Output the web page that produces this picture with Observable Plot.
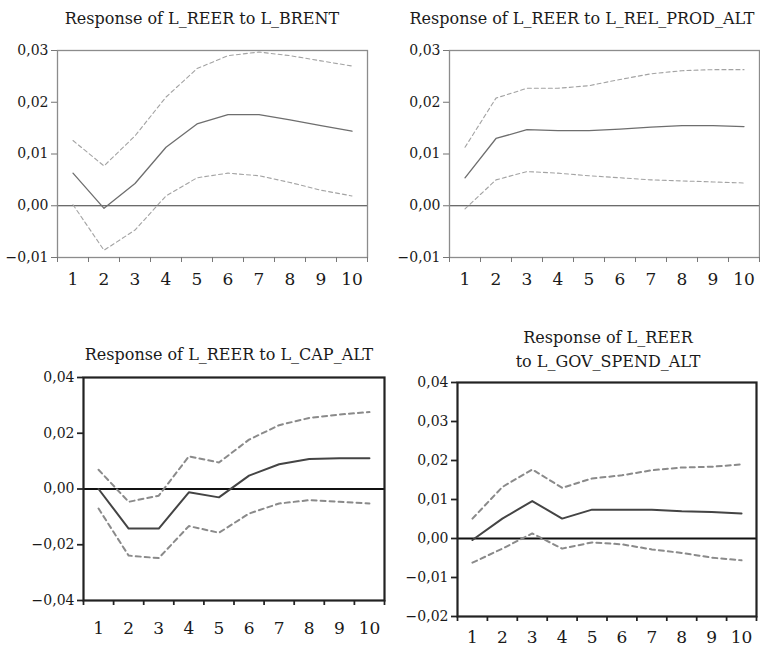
<!DOCTYPE html>
<html>
<head>
<meta charset="utf-8">
<script src="https://cdn.jsdelivr.net/npm/d3@7"></script>
<script src="https://cdn.jsdelivr.net/npm/@observablehq/plot@0.6"></script>
<style>
  html, body { margin: 0; padding: 0; background: #fff; }
  #root { position: relative; width: 760px; height: 646px; overflow: hidden; font-family: "DejaVu Serif", serif; color: #1a1a1a; }
  .panel { position: absolute; }
  .title { position: absolute; text-align: center; font-size: 16px; line-height: 20px; white-space: nowrap; }
</style>
</head>
<body>
<div id="root"></div>
<script>
// ---- data ----
const periods = [1, 2, 3, 4, 5, 6, 7, 8, 9, 10];

const brentMid = [0.0063, -0.0005, 0.0043, 0.0113, 0.0158, 0.0176, 0.0176, 0.0166, 0.0155, 0.0144];
const brentUp  = [0.0126, 0.0077, 0.0135, 0.0210, 0.0265, 0.0290, 0.0297, 0.0290, 0.0280, 0.0270];
const brentLo  = [0.0002, -0.0086, -0.0047, 0.0019, 0.0054, 0.0063, 0.0058, 0.0045, 0.0030, 0.0019];

const prodMid = [0.0054, 0.0130, 0.0147, 0.0145, 0.0145, 0.0148, 0.0152, 0.0155, 0.0155, 0.0153];
const prodUp  = [0.0113, 0.0208, 0.0227, 0.0227, 0.0232, 0.0244, 0.0255, 0.0261, 0.0263, 0.0263];
const prodLo  = [-0.0006, 0.0050, 0.0066, 0.0063, 0.0058, 0.0054, 0.0050, 0.0048, 0.0046, 0.0044];

const capMid = [0.0000, -0.0142, -0.0142, -0.0012, -0.0030, 0.0048, 0.0089, 0.0108, 0.0110, 0.0110];
const capUp  = [0.0069, -0.0046, -0.0024, 0.0117, 0.0095, 0.0177, 0.0229, 0.0255, 0.0267, 0.0276];
const capLo  = [-0.0070, -0.0239, -0.0248, -0.0133, -0.0157, -0.0088, -0.0052, -0.0040, -0.0046, -0.0052];

const govMid = [-0.0004, 0.0051, 0.0096, 0.0051, 0.0074, 0.0074, 0.0074, 0.0070, 0.0068, 0.0064];
const govUp  = [0.0051, 0.0132, 0.0177, 0.0130, 0.0154, 0.0162, 0.0175, 0.0182, 0.0184, 0.0190];
const govLo  = [-0.0062, -0.0026, 0.0013, -0.0026, -0.0010, -0.0015, -0.0028, -0.0037, -0.0049, -0.0056];

const titles = [
  ["Response of L_REER to L_BRENT"],
  ["Response of L_REER to L_REL_PROD_ALT"],
  ["Response of L_REER to L_CAP_ALT"],
  ["Response of L_REER", "to L_GOV_SPEND_ALT"]
];
const yTicksTop = [-0.01, 0, 0.01, 0.02, 0.03];
const yTicksCap = [-0.04, -0.02, 0, 0.02, 0.04];
const yTicksGov = [-0.02, -0.01, 0, 0.01, 0.02, 0.03, 0.04];
const boundaries = [0.5, 1.5, 2.5, 3.5, 4.5, 5.5, 6.5, 7.5, 8.5, 9.5, 10.5];

// ---- helpers ----
const fmt = d => (d < 0 ? "\u2212" : "") + Math.abs(d).toFixed(2).replace(".", ",");
const rows = (arr) => periods.map((p, i) => ({p, v: arr[i]}));

const light = {frame: "#8c8c8c", frameW: 1.3, zero: "#3a3a3a", zeroW: 1.2, mid: "#6e6e6e", midW: 1.3, band: "#a3a3a3", bandW: 1.1, dash: "4,3", tick: "#777"};
const dark  = {frame: "#222", frameW: 2.2, zero: "#111", zeroW: 2.2, mid: "#444", midW: 2, band: "#8a8a8a", bandW: 2, dash: "5,4", tick: "#222"};

const root = document.getElementById("root");

function panel({left, width, frameLeft, frameRight, frameTop, frameBottom, domain, yTicks, mid, up, lo, st, xLabelPad, title, titleCx, titleTop}) {
  const marginTop = 10, marginBottom = 30;
  const svgTop = frameTop - marginTop;
  const height = frameBottom - frameTop + marginTop + marginBottom;
  const chart = Plot.plot({
    width, height,
    marginLeft: frameLeft - left,
    marginRight: left + width - frameRight,
    marginTop, marginBottom,
    style: {fontFamily: "DejaVu Serif, serif", color: "#1a1a1a", background: "transparent", overflow: "visible"},
    x: {domain: [0.5, 10.5], axis: null},
    y: {domain, axis: null},
    marks: [
      Plot.ruleY([0], {stroke: st.zero, strokeWidth: st.zeroW}),
      Plot.line(rows(up), {x: "p", y: "v", stroke: st.band, strokeWidth: st.bandW, strokeDasharray: st.dash}),
      Plot.line(rows(lo), {x: "p", y: "v", stroke: st.band, strokeWidth: st.bandW, strokeDasharray: st.dash}),
      Plot.line(rows(mid), {x: "p", y: "v", stroke: st.mid, strokeWidth: st.midW}),
      Plot.frame({stroke: st.frame, strokeWidth: st.frameW}),
      Plot.axisY({ticks: yTicks, tickFormat: fmt, tickSize: 6, tickPadding: 3, fontSize: 14, label: null, stroke: st.tick, strokeWidth: st.frameW * 0.8, color: "#1a1a1a"}),
      Plot.axisX({ticks: boundaries, tickFormat: () => "", tickSize: 5, label: null, stroke: st.tick, strokeWidth: st.frameW * 0.8}),
      Plot.axisX({ticks: periods, tickFormat: d => String(d), tickSize: 0, tickPadding: xLabelPad, fontSize: 17, label: null})
    ]
  });
  chart.classList.add("panel");
  chart.style.left = left + "px";
  chart.style.top = svgTop + "px";
  root.appendChild(chart);

  title.forEach((line, i) => {
    const div = document.createElement("div");
    div.className = "title";
    div.textContent = line;
    div.style.width = "400px";
    div.style.left = (titleCx - 200) + "px";
    div.style.top = (titleTop + i * 24) + "px";
    root.appendChild(div);
  });
}

panel({left: 0, width: 380, frameLeft: 57, frameRight: 367, frameTop: 50, frameBottom: 257,
  domain: [-0.01, 0.03], yTicks: yTicksTop, mid: brentMid, up: brentUp, lo: brentLo, st: light,
  xLabelPad: 15, title: titles[0], titleCx: 202, titleTop: 9});

panel({left: 380, width: 380, frameLeft: 449, frameRight: 759, frameTop: 50, frameBottom: 257,
  domain: [-0.01, 0.03], yTicks: yTicksTop, mid: prodMid, up: prodUp, lo: prodLo, st: light,
  xLabelPad: 15, title: titles[1], titleCx: 582, titleTop: 9});

panel({left: 0, width: 380, frameLeft: 83, frameRight: 384, frameTop: 377, frameBottom: 600, 
  domain: [-0.04, 0.04], yTicks: yTicksCap, mid: capMid, up: capUp, lo: capLo, st: dark,
  xLabelPad: 21, title: titles[2], titleCx: 229, titleTop: 345});

panel({left: 380, width: 380, frameLeft: 457, frameRight: 756, frameTop: 382, frameBottom: 616,
  domain: [-0.02, 0.04], yTicks: yTicksGov, mid: govMid, up: govUp, lo: govLo, st: dark,
  xLabelPad: 14, title: titles[3], titleCx: 608, titleTop: 328});
</script>
</body>
</html>
